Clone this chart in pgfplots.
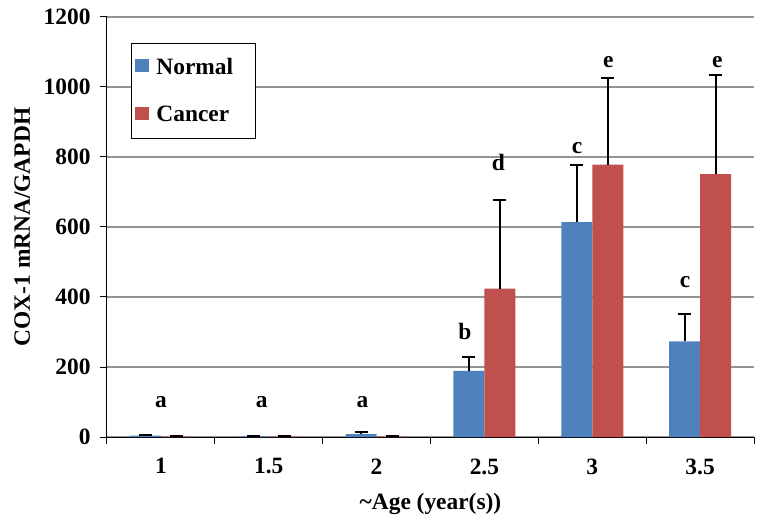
\documentclass[border=0pt]{standalone}
\usepackage{pgfplots}
\usepackage{fontspec}
\setmainfont{Liberation Serif}
\pgfplotsset{compat=1.18}

\definecolor{normalblue}{RGB}{79,129,189}
\definecolor{cancerred}{RGB}{192,80,77}

\begin{document}
\begin{tikzpicture}
\begin{axis}[
    scale only axis,
    width=647bp, height=420bp,
    ymin=0, ymax=1200,
    ytick={0,200,...,1200},
    xmin=-0.5, xmax=5.5,
    xtick={0,...,5},
    xticklabels={1,1.5,2,2.5,3,3.5},
    minor xtick={-0.5,0.5,...,5.5},
    major x tick style={draw=none},
    minor tick length=7bp,
    major tick length=7bp,
    tick align=outside,
    tick pos=left,
    axis x line*=bottom,
    axis y line*=left,
    axis line style={black, line width=1bp},
    tick style={black, line width=1bp},
    ymajorgrids,
    grid style={black!42, line width=1.6bp},
    /pgf/number format/assume math mode=true,
    /pgf/number format/set thousands separator={},
    tick label style={font=\fontsize{23.5}{26}\selectfont\bfseries},
    xticklabel style={yshift=-11bp},
    yticklabel style={xshift=-6bp},
    ylabel={COX-1 mRNA/GAPDH},
    xlabel={\textasciitilde Age (year(s))},
    label style={font=\fontsize{23.5}{26}\selectfont\bfseries},
    ylabel style={at={(axis description cs:-0.131,0.5)}, anchor=center},
    xlabel style={at={(axis description cs:0.5,-0.159)}, anchor=center},
    ybar=0pt,
    bar width=31bp,
    error bars/error bar style={black, line width=2bp},
    error bars/error mark options={black, line width=2bp, mark size=6.5bp, rotate=90},
    legend style={
        at={(0.037,0.938)}, anchor=north west,
        draw=black, line width=1bp, fill=white,
        font=\fontsize{23.5}{26}\selectfont\bfseries,
        row sep=26bp, inner xsep=4bp, inner ysep=13bp,
        /tikz/every odd column/.append style={column sep=5bp},
    },
    legend cell align=left,
    legend image code/.code={\fill[#1, draw=none] (0bp,-5bp) rectangle (14bp,8bp);},
]

\addplot[fill=normalblue, draw=none,
    error bars/.cd, y dir=plus, y explicit] coordinates {
    (0,4) +- (0,3)
    (1,2) +- (0,1)
    (2,8) +- (0,7)
    (3,189) +- (0,40)
    (4,614) +- (0,162)
    (5,273) +- (0,78)
};
\addlegendentry{Normal\rule{16bp}{0pt}}

\addplot[fill=cancerred, draw=none,
    error bars/.cd, y dir=plus, y explicit] coordinates {
    (0,1) +- (0,1)
    (1,1) +- (0,1)
    (2,1) +- (0,1)
    (3,424) +- (0,253)
    (4,778) +- (0,248)
    (5,751) +- (0,282)
};
\addlegendentry{Cancer}

\path (rel axis cs:0,0) coordinate (ll);

\begin{scope}[every node/.style={font=\fontsize{23.5}{26}\selectfont\bfseries, anchor=center}]
\node at (axis cs:0,100) {a};
\node at (axis cs:0.935,100) {a};
\node at (axis cs:1.87,100) {a};
\node at (axis cs:2.82,301) {b};
\node at (axis cs:3.13,783) {d};
\node at (axis cs:3.86,826) {c};
\node at (axis cs:4.15,1071) {e};
\node at (axis cs:4.86,444) {c};
\node at (axis cs:5.16,1071) {e};
\end{scope}

\end{axis}
\pgfresetboundingbox
\path ([shift={(-107bp,-83bp)}]ll) rectangle ([shift={(657bp,437bp)}]ll);
\end{tikzpicture}
\end{document}
